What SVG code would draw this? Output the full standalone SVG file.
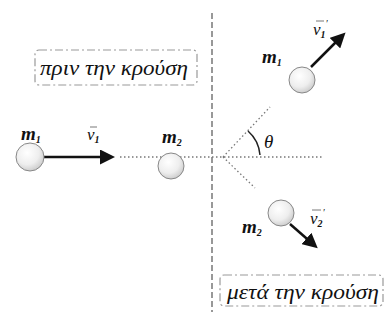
<svg xmlns="http://www.w3.org/2000/svg" width="387" height="320" viewBox="0 0 387 320">
<style>
text{font-family:'Liberation Serif','DejaVu Serif',serif;font-style:italic;fill:#111}
.m{font-weight:bold;font-size:19px}
.sub{font-size:10px;font-weight:bold}
.v{font-size:17px}
.box{fill:none;stroke:#999;stroke-width:1.2;stroke-dasharray:8 3 2 3}
.ball{fill:url(#g);stroke:#888;stroke-width:1}
.dot{stroke:#777;stroke-width:1.3;stroke-dasharray:1.5 2.5;fill:none}
.arr{stroke:#111;stroke-width:2.5;fill:none}
.vec{stroke:#555;stroke-width:0.8;fill:none}
</style>
<defs>
<radialGradient id="g" cx="0.4" cy="0.35" r="0.7">
<stop offset="0" stop-color="#ffffff"/>
<stop offset="0.6" stop-color="#eeeeee"/>
<stop offset="1" stop-color="#c8c8c8"/>
</radialGradient>
<marker id="ah" markerWidth="6" markerHeight="6" refX="4" refY="3" orient="auto" markerUnits="strokeWidth">
<path d="M0,0 L6,3 L0,6 Z" fill="#111"/>
</marker>
</defs>
<rect width="387" height="320" fill="#fff"/>
<g id="connectors">
<line x1="212" y1="13" x2="212" y2="312" stroke="#777" stroke-width="1.5" stroke-dasharray="6 3"/>
<line class="dot" x1="120" y1="157" x2="322" y2="157"/>
<line class="dot" x1="223" y1="157" x2="270" y2="107"/>
<line class="dot" x1="223" y1="157" x2="255" y2="188"/>
<path d="M248,131 A36,36 0 0 1 260,155" stroke="#222" stroke-width="1.5" fill="none"/>
<line class="arr" x1="44" y1="157" x2="110" y2="157" marker-end="url(#ah)"/>
<line class="arr" x1="311" y1="67" x2="342" y2="36" marker-end="url(#ah)"/>
<line class="arr" x1="290" y1="224" x2="314" y2="245" marker-end="url(#ah)"/>
</g>
<g id="label-before">
<rect class="box" x="35" y="50" width="162" height="35" rx="4"/>
<text x="40" y="75" font-size="20" textLength="148" lengthAdjust="spacingAndGlyphs">πριν την κρούση</text>
</g>
<g id="label-after">
<rect class="box" x="220" y="275" width="163" height="31" rx="4"/>
<text x="227" y="299" font-size="20" textLength="152" lengthAdjust="spacingAndGlyphs">μετά την κρούση</text>
</g>
<g id="m1-before">
<circle class="ball" cx="30" cy="157" r="14"/>
<text class="m" x="21" y="140">m<tspan class="sub" dy="3">1</tspan></text>
<text class="v" x="87" y="140">v<tspan class="sub" dy="3">1</tspan></text>
<line class="vec" x1="90" y1="127" x2="97" y2="127"/>
</g>
<g id="m2-before">
<circle class="ball" cx="171" cy="166" r="13"/>
<text class="m" x="162" y="143">m<tspan class="sub" dy="3">2</tspan></text>
</g>
<g id="m1-after">
<circle class="ball" cx="302" cy="80" r="13"/>
<text class="m" x="262" y="63">m<tspan class="sub" dy="3">1</tspan></text>
<text class="v" x="313" y="35">v<tspan class="sub" dy="3">1</tspan><tspan font-size="10" dy="-11">′</tspan></text>
<line class="vec" x1="316" y1="21" x2="324" y2="21"/>
</g>
<g id="m2-after">
<circle class="ball" cx="281" cy="213" r="13"/>
<text class="m" x="242" y="233">m<tspan class="sub" dy="3">2</tspan></text>
<text class="v" x="310" y="224">v<tspan class="sub" dy="3">2</tspan><tspan font-size="10" dy="-11">′</tspan></text>
<line class="vec" x1="312" y1="210" x2="321" y2="210"/>
</g>
<g id="theta">
<text x="264" y="148" font-size="19">θ</text>
</g>
</svg>
